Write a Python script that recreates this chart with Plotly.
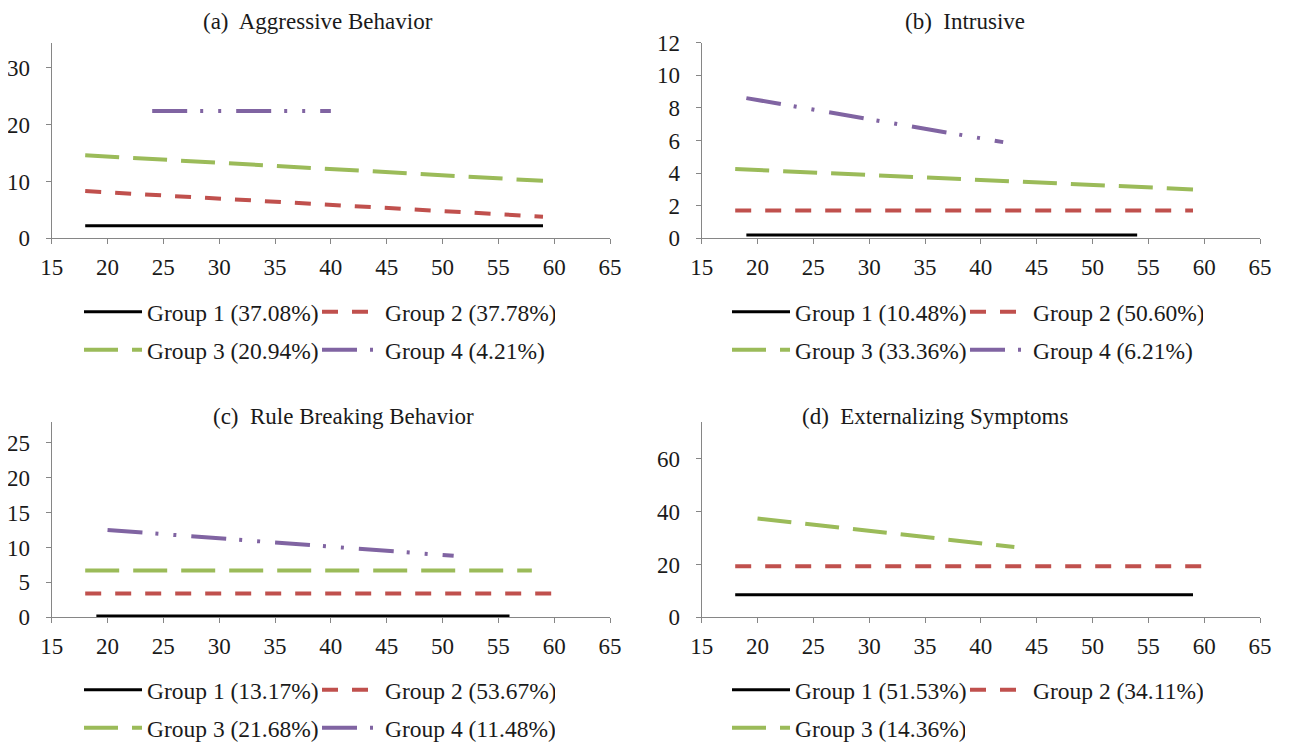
import plotly.graph_objects as go

# ---------------- data ----------------
group_names = ["Group 1", "Group 2", "Group 3", "Group 4"]
colors = ["#000000", "#C0504D", "#9BBB59", "#8064A2"]

titles = ["(a)\u00a0 Aggressive Behavior", "(b)\u00a0 Intrusive",
          "(c)\u00a0 Rule Breaking Behavior", "(d)\u00a0 Externalizing Symptoms"]

# (a) Aggressive Behavior
a_pct = ["37.08%", "37.78%", "20.94%", "4.21%"]
a_x = [[18, 59], [18, 59], [18, 59], [24, 40]]
a_y = [[2.2, 2.2], [8.3, 3.8], [14.6, 10.1], [22.4, 22.4]]

# (b) Intrusive
b_pct = ["10.48%", "50.60%", "33.36%", "6.21%"]
b_x = [[19, 54], [18, 59], [18, 59], [19, 42]]
b_y = [[0.2, 0.2], [1.7, 1.7], [4.25, 3.0], [8.6, 5.9]]

# (c) Rule Breaking Behavior
c_pct = ["13.17%", "53.67%", "21.68%", "11.48%"]
c_x = [[19, 56], [18, 60], [18, 58], [20, 51]]
c_y = [[0.2, 0.2], [3.4, 3.4], [6.7, 6.7], [12.5, 8.8]]

# (d) Externalizing Symptoms
d_pct = ["51.53%", "34.11%", "14.36%"]
d_x = [[18, 59], [18, 60], [20, 43]]
d_y = [[8.5, 8.5], [19.3, 19.3], [37.4, 26.6]]

x_ticks = [15, 20, 25, 30, 35, 40, 45, 50, 55, 60, 65]
a_yticks = [0, 10, 20, 30]
b_yticks = [0, 2, 4, 6, 8, 10, 12]
c_yticks = [0, 5, 10, 15, 20, 25]
d_yticks = [0, 20, 40, 60]
y_max = [34.4, 12, 28, 74]

# ---------------- styling ----------------
OFF = 8  # page body margin: positions below are in page pixels
W, H = 1290 - OFF, 745 - OFF
FONT = "Liberation Serif, Times New Roman, Times, serif"
FS = 23
LFS = 23.5
dashes = ["solid", "16px,14px", "34px,14px", "35px,13px,3px,15px,3px,15px"]
widths = [3, 4, 4, 4]

panels = [(a_x, a_y, a_pct, a_yticks), (b_x, b_y, b_pct, b_yticks),
          (c_x, c_y, c_pct, c_yticks), (d_x, d_y, d_pct, d_yticks)]

# plot area page-pixel boxes (left, right, top, bottom)
boxes = [(51.7, 610, 42.7, 238.3), (701.7, 1260, 42.7, 238.3),
         (51.7, 610, 421.7, 617.3), (701.7, 1260, 421.7, 617.3)]
title_pos = [(318, 21), (965, 21), (343, 416), (935, 416)]
legend_text_x = [152, 800, 152, 800]
legend_rows = [(312, 350), (312, 350), (690, 728), (690, 728)]
ITEMW = 58
ENTRYW = 165


def fx(px):
    return (px - OFF) / W


def fy(py):
    return 1 - (py - OFF) / H


fig = go.Figure()
layout = dict(width=W, height=H,
              margin=dict(l=0, r=0, t=0, b=0, autoexpand=False),
              plot_bgcolor="white", paper_bgcolor="white",
              font=dict(family=FONT, size=FS, color="#1a1a1a"),
              annotations=[])

for p, (xs, ys, pct, yt) in enumerate(panels):
    sfx = "" if p == 0 else str(p + 1)
    for g in range(len(xs)):
        row = g // 2
        leg_idx = p * 2 + row + 1
        leg = "legend" if leg_idx == 1 else f"legend{leg_idx}"
        fig.add_trace(go.Scatter(
            x=xs[g], y=ys[g], mode="lines",
            name=f"{group_names[g]} ({pct[g]})",
            line=dict(color=colors[g], width=widths[g], dash=dashes[g]),
            xaxis="x" + sfx, yaxis="y" + sfx, legend=leg,
            showlegend=True, hoverinfo="x+y+name"))

    l, r, t, b = boxes[p]
    axis_common = dict(showline=True, linecolor="#868686", linewidth=1,
                       ticks="outside", ticklen=5, tickcolor="#868686",
                       showgrid=False, zeroline=False, automargin=False,
                       tickfont=dict(family=FONT, size=FS, color="#1a1a1a"))
    layout["xaxis" + sfx] = dict(domain=[fx(l), fx(r)], range=[15, 65],
                                 tickvals=x_ticks, anchor="y" + sfx,
                                 ticklabelstandoff=3, **axis_common)
    layout["yaxis" + sfx] = dict(domain=[fy(b), fy(t)], range=[0, y_max[p]],
                                 tickvals=yt, anchor="x" + sfx,
                                 ticklabelstandoff=11, **axis_common)
    tx, ty = title_pos[p]
    layout["annotations"].append(dict(
        text=titles[p], x=fx(tx), y=fy(ty), xref="paper", yref="paper",
        xanchor="center", yanchor="middle", showarrow=False,
        font=dict(family=FONT, size=FS, color="#1a1a1a")))
    for row in range(2):
        leg_idx = p * 2 + row + 1
        key = "legend" if leg_idx == 1 else f"legend{leg_idx}"
        layout[key] = dict(orientation="h",
                           x=fx(legend_text_x[p] - ITEMW - 10 - 5),
                           y=fy(legend_rows[p][row]),
                           xanchor="left", yanchor="middle",
                           itemwidth=ITEMW,
                           entrywidth=ENTRYW, entrywidthmode="pixels",
                           bgcolor="rgba(0,0,0,0)", borderwidth=0,
                           font=dict(family=FONT, size=LFS, color="#1a1a1a"))

fig.update_layout(**layout)
fig.write_html("out.html")
